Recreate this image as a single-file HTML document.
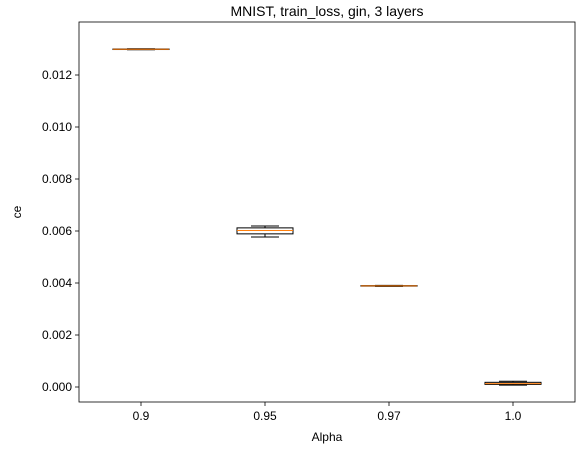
<!DOCTYPE html>
<html><head><meta charset="utf-8"><style>
body{margin:0;background:#fff;}
svg{display:block;font-family:"Liberation Sans","DejaVu Sans",sans-serif;}
</style></head><body>
<svg id="chart" width="584" height="455" viewBox="0 0 584 455"></svg>
<script>
const categories = ["0.9","0.95","0.97","1.0"];
const whiskerLow = [0.01297,0.00577,0.00387,0.00007];
const q1Values = [0.01298,0.00589,0.00388,0.00010];
const medianValues = [0.01299,0.00602,0.00389,0.00013];
const q3Values = [0.01300,0.00612,0.00390,0.00018];
const whiskerHigh = [0.01301,0.00619,0.00391,0.00022];
const yTicks = [0,0.002,0.004,0.006,0.008,0.010,0.012];
const yTickLabels = ["0.000","0.002","0.004","0.006","0.008","0.010","0.012"];

const L=79,R=575,T=22,B=402;
const svg=document.getElementById('chart');
const NS='http://www.w3.org/2000/svg';
function y(v){return 387 - v*26000;}
function x(i){return L + (i+0.5)*(R-L)/categories.length;}
function mk(tag,attrs,parent){const e=document.createElementNS(NS,tag);for(const k in attrs)e.setAttribute(k,attrs[k]);(parent||svg).appendChild(e);return e;}

const title=mk('text',{x:(L+R)/2,y:16,'text-anchor':'middle','font-size':14,fill:'#000'});
title.textContent='MNIST, train_loss, gin, 3 layers';



yTicks.forEach((t,i)=>{
  const g=mk('g',{});
  
  
  mk('line',{x1:L-4,x2:L,y1:y(t),y2:y(t),stroke:'#000','stroke-width':0.8},g);
  const tx=mk('text',{x:L-7,y:y(t)+4,'text-anchor':'end','font-size':12,fill:'#000'},g);
  tx.textContent=yTickLabels[i];
});
categories.forEach((c,i)=>{
  const g=mk('g',{});
  
  
  mk('line',{x1:x(i),x2:x(i),y1:B,y2:B+4,stroke:'#000','stroke-width':0.8},g);
  const tx=mk('text',{x:x(i),y:B+18,'text-anchor':'middle','font-size':12,fill:'#000'},g);
  tx.textContent=c;
});
const hw=28, cw=14;
categories.forEach((c,i)=>{
  const g=mk('g',{});
  
  
  const cx=x(i);
  mk('line',{x1:cx,x2:cx,y1:y(whiskerLow[i]),y2:y(q1Values[i]),stroke:'#000','stroke-width':1},g);
  mk('line',{x1:cx,x2:cx,y1:y(q3Values[i]),y2:y(whiskerHigh[i]),stroke:'#000','stroke-width':1},g);
  mk('line',{x1:cx-cw,x2:cx+cw,y1:y(whiskerLow[i]),y2:y(whiskerLow[i]),stroke:'#000','stroke-width':1},g);
  mk('line',{x1:cx-cw,x2:cx+cw,y1:y(whiskerHigh[i]),y2:y(whiskerHigh[i]),stroke:'#000','stroke-width':1},g);
  const top=y(q3Values[i]),bot=y(q1Values[i]);
  mk('rect',{x:cx-hw,y:top,width:2*hw,height:Math.max(bot-top,0.5),fill:'none',stroke:'#000','stroke-width':1},g);
  mk('line',{x1:cx-hw,x2:cx+hw,y1:y(medianValues[i]),y2:y(medianValues[i]),stroke:'#ff7f0e','stroke-width':1},g);
});
const frame=mk('rect',{x:L,y:T,width:R-L,height:B-T,fill:'none',stroke:'#000','stroke-width':0.8});


const xl=mk('text',{x:(L+R)/2,y:441,'text-anchor':'middle','font-size':12,fill:'#000'});
xl.textContent='Alpha';


const yl=mk('text',{x:0,y:0,'text-anchor':'middle','font-size':12,fill:'#000',transform:'translate(21,'+((T+B)/2)+') rotate(-90)'});
yl.textContent='ce';


</script>
</body></html>
